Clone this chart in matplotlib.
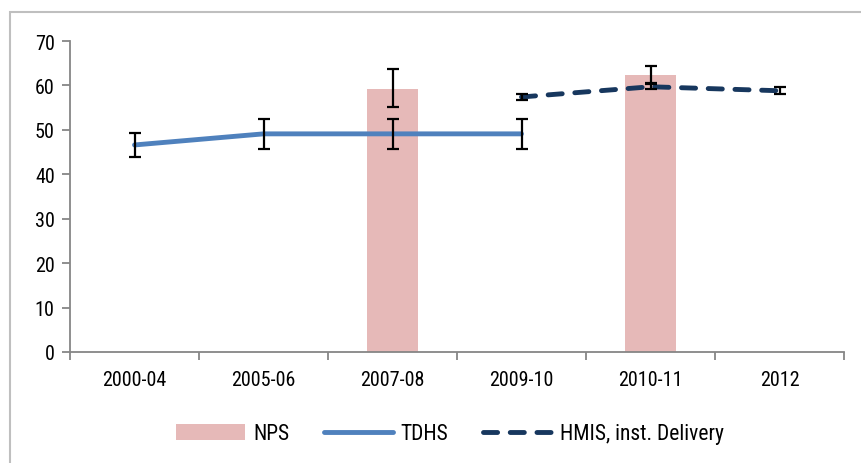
import matplotlib
matplotlib.use("Agg")
import matplotlib.pyplot as plt
from matplotlib.patches import Rectangle, Patch
from matplotlib.lines import Line2D
import numpy as np

categories = ["2000-04", "2005-06", "2007-08", "2009-10", "2010-11", "2012"]

nps_idx = [2, 4]
nps_vals = [59.3, 62.4]
nps_err_low = [4.1, 1.9]
nps_err_high = [4.3, 2.0]

tdhs_idx = [0, 1, 2, 3]
tdhs_vals = [46.6, 49.1, 49.1, 49.1]
tdhs_err_low = [2.7, 3.4, 3.4, 3.4]
tdhs_err_high = [2.8, 3.4, 3.4, 3.4]

hmis_idx = [3, 4, 5]
hmis_vals = [57.4, 59.7, 58.8]
hmis_err_low = [0.7, 0.6, 0.7]
hmis_err_high = [0.7, 0.6, 0.8]

yticks = [0, 10, 20, 30, 40, 50, 60, 70]

plt.rcParams['font.family'] = ['Roboto Condensed', 'Liberation Sans', 'DejaVu Sans']

W, H = 861, 464
fig = plt.figure(figsize=(W / 100, H / 100), dpi=100)

# outer chart border
fig.patches.append(Rectangle((10 / W, -0.05), 1.0, (464 - 13) / H + 0.05,
                             transform=fig.transFigure, fill=False,
                             edgecolor="#BFBFBF", linewidth=1.5))

ax = fig.add_axes([70 / W, (H - 353) / H, (844 - 70) / W, (353 - 42) / H])

axis_color = "#868686"
bar_color = "#E6B9B8"
tdhs_color = "#4F81BD"
hmis_color = "#17375E"
lw = 3.5
dash = (2.9, 2.6)
eb = dict(fmt="none", ecolor="black", elinewidth=1.6, capsize=4.3, capthick=1.6, zorder=4)

ax.bar(nps_idx, nps_vals, width=0.395, color=bar_color, zorder=1)
ax.errorbar(nps_idx, nps_vals, yerr=[nps_err_low, nps_err_high], **eb)

ax.plot(tdhs_idx, tdhs_vals, color=tdhs_color, linewidth=lw,
        solid_capstyle="round", zorder=2)
ax.errorbar(tdhs_idx, tdhs_vals, yerr=[tdhs_err_low, tdhs_err_high], **eb)

ax.plot(hmis_idx, hmis_vals, color=hmis_color, linewidth=lw,
        dashes=dash, dash_capstyle="round", zorder=3)
ax.errorbar(hmis_idx, hmis_vals, yerr=[hmis_err_low, hmis_err_high], **eb)

ax.set_xlim(-0.5, 5.5)
ax.set_ylim(0, 70)
ax.set_yticks(yticks)
ax.set_yticklabels([str(v) for v in yticks], fontsize=14.5)

ax.set_xticks(np.arange(-0.5, 6.0, 1.0))
ax.set_xticklabels([])
ax.set_xticks(np.arange(len(categories)), minor=True)
ax.set_xticklabels(categories, minor=True, fontsize=14.5)
ax.tick_params(axis="x", which="minor", length=0, pad=13)
ax.tick_params(axis="x", which="major", length=6, color=axis_color, width=1.3)
ax.tick_params(axis="y", length=6, color=axis_color, width=1.3, pad=5)

for s in ["top", "right"]:
    ax.spines[s].set_visible(False)
for s in ["left", "bottom"]:
    ax.spines[s].set_color(axis_color)
    ax.spines[s].set_linewidth(1.3)

handles = [
    Patch(facecolor=bar_color, edgecolor="none"),
    Line2D([], [], color=tdhs_color, linewidth=lw, solid_capstyle="round"),
    Line2D([], [], color=hmis_color, linewidth=lw, dashes=dash, dash_capstyle="round"),
]
fig.legend(handles, ["NPS", "TDHS", "HMIS, inst. Delivery"], loc="center",
           bbox_to_anchor=(450 / W, (H - 435) / H), ncol=3, frameon=False,
           fontsize=15.5, handlelength=3.2, handletextpad=0.37, columnspacing=1.6)

fig.savefig("out.png", dpi=100)
